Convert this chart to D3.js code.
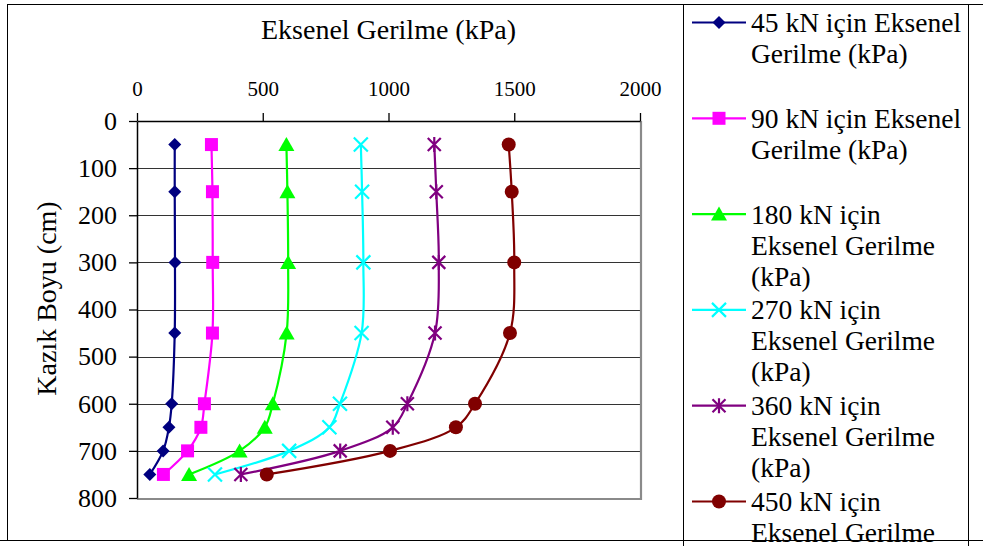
<!DOCTYPE html>
<html>
<head>
<meta charset="utf-8">
<script src="https://cdn.jsdelivr.net/npm/d3@7"></script>
<style>
  html, body { margin: 0; padding: 0; background: #fff; }
  svg { display: block; }
  text { font-family: "Liberation Serif", "Times New Roman", serif; fill: #000; }
</style>
</head>
<body>
<svg id="chart" width="983" height="546"></svg>
<script>
// Pile depth (cm) at each measurement point
const depths = [50, 150, 300, 450, 600, 650, 700, 750];

// Axial stress (kPa) along the pile for each applied load
const loads = ["45", "90", "180", "270", "360", "450"];
const stress45  = [150, 150, 151, 150, 138, 127, 104, 51];
const stress90  = [296, 300, 301, 300, 268, 254, 201, 105];
const stress180 = [594, 598, 601, 595, 540, 508, 408, 207];
const stress270 = [890, 895, 900, 893, 807, 765, 605, 310];
const stress360 = [1182, 1190, 1200, 1185, 1075, 1017, 808, 413];
const stress450 = [1478, 1490, 1500, 1483, 1344, 1268, 1006, 516];

const xTickValues = [0, 500, 1000, 1500, 2000];
const yTickValues = [0, 100, 200, 300, 400, 500, 600, 700, 800];

const xTitle = "Eksenel Gerilme (kPa)";
const yTitle = "Kazık Boyu (cm)";

const seriesValues = [stress45, stress90, stress180, stress270, stress360, stress450];
const seriesColors = ["#000080", "#ff00ff", "#00ff00", "#00ffff", "#800080", "#800000"];
const seriesMarkers = ["diamond", "square", "triangle", "cross", "asterisk", "circle"];

const series = loads.map((load, i) => ({
  label: load + " kN için Eksenel Gerilme (kPa)",
  color: seriesColors[i],
  marker: seriesMarkers[i],
  points: depths.map((d, j) => ({ depth: d, value: seriesValues[i][j] }))
}));

const svg = d3.select("#chart");

// Outer chart frame
svg.append("rect")
  .attr("x", 7.5).attr("y", 4.5)
  .attr("width", 1000).attr("height", 536)
  .attr("fill", "none").attr("stroke", "#000").attr("stroke-width", 1);

const plot = { left: 137, right: 640, top: 121, bottom: 498 };

const x = d3.scaleLinear().domain([0, 2000]).range([plot.left, plot.right]);
const y = d3.scaleLinear().domain([0, 800]).range([plot.top, plot.bottom]);

// Horizontal gridlines
svg.append("g")
  .selectAll("line")
  .data(yTickValues.filter(v => v > 0 && v < 800))
  .join("line")
  .attr("x1", plot.left).attr("x2", plot.right)
  .attr("y1", d => Math.round(y(d)) + 0.5).attr("y2", d => Math.round(y(d)) + 0.5)
  .attr("stroke", "#333").attr("stroke-width", 1.2);

// Plot area border (right and bottom)
svg.append("path")
  .attr("d", `M${plot.right + 1},${plot.top} V${plot.bottom + 1} H${plot.left}`)
  .attr("fill", "none").attr("stroke", "#8a8a8a").attr("stroke-width", 2.2);

// Top value axis
const xAxis = svg.append("g")
  .attr("transform", `translate(0,${plot.top})`)
  .call(d3.axisTop(x).tickValues(xTickValues).tickFormat(d3.format("d"))
    .tickSize(8).tickSizeOuter(0).tickPadding(17));
xAxis.select(".domain").attr("stroke", "#000").attr("stroke-width", 1.5);
xAxis.selectAll(".tick line").attr("stroke", "#000").attr("stroke-width", 1.3);
xAxis.selectAll(".tick text")
  .style("font-family", '"Liberation Serif", "Times New Roman", serif')
  .style("font-size", "21px").attr("fill", "#000");

// Left depth axis
const yAxis = svg.append("g")
  .attr("transform", `translate(${plot.left},0)`)
  .call(d3.axisLeft(y).tickValues(yTickValues).tickFormat(d3.format("d"))
    .tickSize(8).tickSizeOuter(0).tickPadding(12));
yAxis.select(".domain").attr("stroke", "#000").attr("stroke-width", 1.5);
yAxis.selectAll(".tick line").attr("stroke", "#000").attr("stroke-width", 1.3);
yAxis.selectAll(".tick text")
  .style("font-family", '"Liberation Serif", "Times New Roman", serif')
  .style("font-size", "26px").attr("fill", "#000");

// Axis titles
svg.append("text")
  .attr("x", (plot.left + plot.right) / 2).attr("y", 39)
  .attr("text-anchor", "middle")
  .style("font-size", "28px")
  .text(xTitle);

svg.append("text")
  .attr("transform", `translate(46,${(plot.top + plot.bottom) / 2 - 11}) rotate(-90)`)
  .attr("text-anchor", "middle")
  .attr("dominant-baseline", "central")
  .style("font-size", "28px")
  .text(yTitle);

// Marker shapes
function markerPath(type) {
  switch (type) {
    case "diamond":  return "M0,-6.5 L6.5,0 L0,6.5 L-6.5,0 Z";
    case "square":   return "M-6.5,-6.5 H6.5 V6.5 H-6.5 Z";
    case "triangle": return "M0,-7.5 L8,6.5 L-8,6.5 Z";
    case "cross":    return "M-7,-7 L7,7 M-7,7 L7,-7";
    case "asterisk": return "M-6.5,-6.5 L6.5,6.5 M-6.5,6.5 L6.5,-6.5 M0,-7.5 V7.5";
    case "circle":   return d3.arc()({ innerRadius: 0, outerRadius: 7, startAngle: 0, endAngle: 2 * Math.PI });
  }
}
function drawMarker(sel, type, color) {
  const open = type === "cross" || type === "asterisk";
  sel.append("path")
    .attr("d", markerPath(type))
    .attr("fill", open ? "none" : color)
    .attr("stroke", open ? color : "none")
    .attr("stroke-width", open ? 2.2 : 0);
}

// Smoothed series lines
const line = d3.line()
  .x(p => x(p.value))
  .y(p => y(p.depth))
  .curve(d3.curveCatmullRom.alpha(0.5));

const seriesGroups = svg.append("g")
  .selectAll("g")
  .data(series)
  .join("g");

seriesGroups.append("path")
  .attr("d", s => line(s.points))
  .attr("fill", "none")
  .attr("stroke", s => s.color)
  .attr("stroke-width", 2.2);

seriesGroups.each(function (s) {
  d3.select(this).selectAll("g.pt")
    .data(s.points)
    .join("g")
    .attr("class", "pt")
    .attr("transform", p => `translate(${x(p.value)},${y(p.depth)})`)
    .each(function () { drawMarker(d3.select(this), s.marker, s.color); });
});

// Legend
const legend = svg.append("g");
legend.append("rect")
  .attr("x", 683.5).attr("y", 4.5)
  .attr("width", 285).attr("height", 600)
  .attr("fill", "#fff").attr("stroke", "#000").attr("stroke-width", 1);

const legendFont = 27.5;
const maxTextWidth = 218;
const measurer = svg.append("text").style("font-size", legendFont + "px").attr("visibility", "hidden");
function wrap(label) {
  const words = label.split(" ");
  const lines = [];
  let current = "";
  words.forEach(w => {
    const trial = current ? current + " " + w : w;
    measurer.text(trial);
    if (current && measurer.node().getComputedTextLength() > maxTextWidth) {
      lines.push(current);
      current = w;
    } else {
      current = trial;
    }
  });
  if (current) lines.push(current);
  return lines;
}

const entryStep = 95.8;
const lineStep = 31;
series.forEach((s, i) => {
  const base = 32 + i * entryStep;
  const g = legend.append("g");
  g.append("line")
    .attr("x1", 692).attr("x2", 746)
    .attr("y1", base - 9.5).attr("y2", base - 9.5)
    .attr("stroke", s.color).attr("stroke-width", 2.2);
  const m = g.append("g").attr("transform", `translate(719,${base - 9.5})`);
  drawMarker(m, s.marker, s.color);
  const t = g.append("text")
    .attr("x", 751).attr("y", base)
    .style("font-size", legendFont + "px");
  wrap(s.label).forEach((ln, k) => {
    t.append("tspan").attr("x", 751).attr("y", base + k * lineStep).text(ln);
  });
});
measurer.remove();

// Bottom edge of the chart frame runs over the legend
svg.append("line")
  .attr("x1", 0).attr("x2", 983)
  .attr("y1", 540.5).attr("y2", 540.5)
  .attr("stroke", "#000").attr("stroke-width", 1);
</script>
</body>
</html>
